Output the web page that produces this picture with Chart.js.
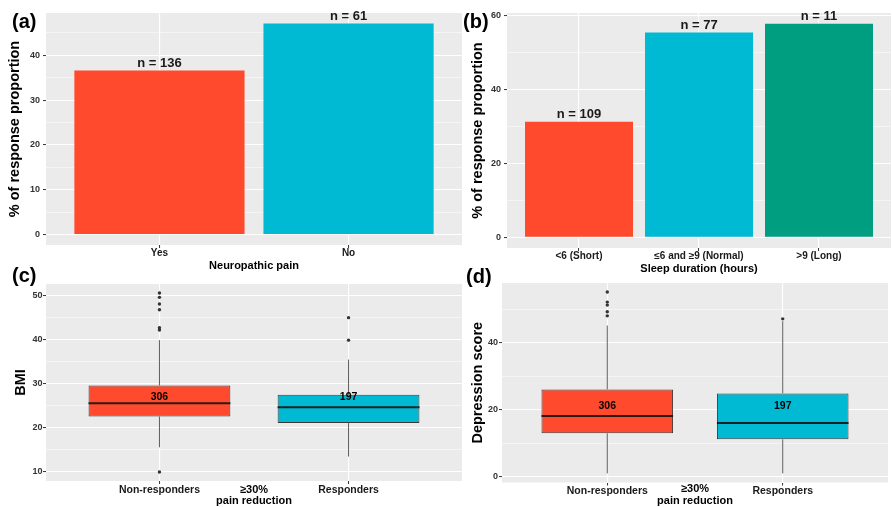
<!DOCTYPE html>
<html>
<head>
<meta charset="utf-8">
<script src="https://cdn.jsdelivr.net/npm/chart.js@4"></script>
<style>
  html, body { margin: 0; padding: 0; background: #ffffff; }
  body { width: 892px; height: 507px; position: relative; overflow: hidden; font-family: "Liberation Sans", Arial, Helvetica, sans-serif; }
  canvas { position: absolute; }
  .tag { position: absolute; font-weight: bold; font-size: 20px; line-height: 20px; color: #000; }
</style>
</head>
<body>
<canvas id="chartA" width="466" height="275" style="left:0px;top:0px"></canvas>
<canvas id="chartB" width="426" height="278" style="left:466px;top:0px"></canvas>
<canvas id="chartC" width="466" height="242" style="left:0px;top:265px"></canvas>
<canvas id="chartD" width="426" height="242" style="left:466px;top:265px"></canvas>
<div class="tag" style="left:12px;top:11px">(a)</div>
<div class="tag" style="left:463px;top:11px">(b)</div>
<div class="tag" style="left:12px;top:265px">(c)</div>
<div class="tag" style="left:466px;top:266px">(d)</div>
<script>
// ---------------- data ----------------
const painCategories = ['Yes', 'No'];
const painPercent = [36.6, 47.1];
const painCounts = ['n = 136', 'n = 61'];

const sleepCategories = ['<6 (Short)', '≤6 and ≥9 (Normal)', '>9 (Long)'];
const sleepPercent = [31.2, 55.3, 57.7];
const sleepCounts = ['n = 109', 'n = 77', 'n = 11'];

const responseGroups = ['Non-responders', 'Responders'];
const groupCounts = ['306', '197'];

const bmiLow    = [15.5, 13.4];
const bmiQ1     = [22.5, 21.0];
const bmiMedian = [25.5, 24.6];
const bmiQ3     = [29.5, 27.4];
const bmiHigh   = [39.8, 35.4];
const bmiOutliers = [[50.5, 49.5, 48.0, 46.7, 42.6, 42.1, 9.9], [44.9, 39.8]];

const depLow    = [1.0, 1.0];
const depQ1     = [13.0, 11.2];
const depMedian = [18.2, 16.1];
const depQ3     = [26.1, 24.9];
const depHigh   = [45.2, 46.5];
const depOutliers = [[55.2, 52.2, 51.3, 49.3, 48.1], [47.2]];

const painTicks  = [0, 10, 20, 30, 40];
const painMinor  = [5, 15, 25, 35, 45];
const sleepTicks = [0, 20, 40, 60];
const sleepMinor = [10, 30, 50];
const bmiTicks   = [10, 20, 30, 40, 50];
const bmiMinor   = [15, 25, 35, 45];
const depTicks   = [0, 20, 40];
const depMinor   = [10, 30, 50];

// ---------------- helpers ----------------
const FONT = '"Liberation Sans", Arial, Helvetica, sans-serif';
const RED = '#FF4A2D', CYAN = '#00BAD3', GREEN = '#009E80';

function expandRange(lo, hi) { const d = (hi - lo) * 0.05; return [lo - d, hi + d]; }

const panelBg = {
  id: 'panelBg',
  beforeDraw(chart) {
    const { ctx, chartArea: a } = chart;
    ctx.save();
    ctx.fillStyle = '#EBEBEB';
    ctx.fillRect(a.left, a.top, a.right - a.left, a.bottom - a.top);
    ctx.restore();
  }
};

function barLabels(labels) {
  return {
    id: 'barLabels',
    afterDatasetsDraw(chart) {
      const ctx = chart.ctx, meta = chart.getDatasetMeta(0);
      ctx.save();
      ctx.font = 'bold 13px ' + FONT;
      ctx.fillStyle = '#1a1a1a';
      ctx.textAlign = 'center';
      ctx.textBaseline = 'bottom';
      meta.data.forEach((el, i) => ctx.fillText(labels[i], el.x, el.y - 1));
      ctx.restore();
    }
  };
}

function boxExtras(low, q1, median, q3, high, counts, countAt) {
  return {
    id: 'boxExtras',
    afterDatasetsDraw(chart) {
      const ctx = chart.ctx, y = chart.scales.y, meta = chart.getDatasetMeta(0);
      ctx.save();
      meta.data.forEach((el, i) => {
        const x = el.x, half = el.width / 2;
        ctx.strokeStyle = '#5e5e5e';
        ctx.lineWidth = 1;
        ctx.beginPath();
        ctx.moveTo(x, y.getPixelForValue(q3[i]));
        ctx.lineTo(x, y.getPixelForValue(high[i]));
        ctx.moveTo(x, y.getPixelForValue(q1[i]));
        ctx.lineTo(x, y.getPixelForValue(low[i]));
        ctx.stroke();
        ctx.strokeStyle = 'rgba(25,20,20,0.92)';
        ctx.lineWidth = 2;
        ctx.beginPath();
        const my = y.getPixelForValue(median[i]);
        ctx.moveTo(x - half, my);
        ctx.lineTo(x + half, my);
        ctx.stroke();
        ctx.font = 'bold 10.5px ' + FONT;
        ctx.fillStyle = '#000';
        ctx.textAlign = 'center';
        ctx.textBaseline = 'middle';
        ctx.fillText(counts[i], x, y.getPixelForValue(countAt));
      });
      ctx.restore();
    }
  };
}

function yScale(range, majors, minors, width, title, titlePad, labelPad) {
  const all = majors.concat(minors).sort((a, b) => a - b);
  return {
    type: 'linear', min: range[0], max: range[1],
    afterBuildTicks: s => { s.ticks = all.map(v => ({ value: v })); },
    afterFit: s => { s.width = width; },
    border: { display: false },
    grid: {
      color: '#ffffff',
      lineWidth: c => (c.tick && majors.includes(c.tick.value)) ? 1.1 : 0.5,
      tickColor: c => (c.tick && majors.includes(c.tick.value)) ? '#333333' : 'rgba(0,0,0,0)',
      tickWidth: 1, tickLength: 3, drawTicks: true
    },
    ticks: {
      autoSkip: false, padding: labelPad, color: '#333333',
      font: { family: FONT, size: 9, weight: 'bold', lineHeight: 1 },
      callback: v => majors.includes(v) ? String(v) : ''
    },
    title: {
      display: true, text: title, color: '#000',
      font: { family: FONT, size: 14.5, weight: 'bold', lineHeight: 1.2 },
      padding: { top: titlePad, bottom: 0 }
    }
  };
}

function xScale(cats, height, title, titleLH, titlePadBottom, tickSize, tickPad) {
  return {
    type: 'linear', min: -0.6, max: cats.length - 1 + 0.6, offset: false,
    afterBuildTicks: s => { s.ticks = cats.map((_, i) => ({ value: i })); },
    afterFit: s => { s.height = height; },
    border: { display: false },
    grid: { offset: false, color: '#ffffff', lineWidth: 1.1, tickColor: '#333333', tickLength: 3, tickWidth: 1 },
    ticks: {
      autoSkip: false, maxRotation: 0, minRotation: 0, padding: tickPad, color: '#1a1a1a',
      font: { family: FONT, size: tickSize, weight: 'bold', lineHeight: 1 },
      callback: v => cats[v]
    },
    title: {
      display: true, text: title, color: '#000',
      font: { family: FONT, size: 11, weight: 'bold', lineHeight: titleLH },
      padding: { top: 0, bottom: titlePadBottom }
    }
  };
}

const baseOptions = (padding, scales) => ({
  responsive: false, animation: false,
  layout: { padding },
  plugins: { legend: { display: false }, tooltip: { enabled: false } },
  scales
});

// ---------------- (a) ----------------
new Chart(document.getElementById('chartA'), {
  type: 'bar',
  data: { datasets: [{
    data: painPercent.map((v, i) => ({ x: i, y: v })),
    backgroundColor: [RED, CYAN], borderWidth: 0,
    categoryPercentage: 0.9, barPercentage: 1
  }] },
  options: baseOptions({ left: 0, top: 13, right: 4, bottom: 0 }, {
    x: xScale(painCategories, 30, 'Neuropathic pain', 1.2, 2.7, 10, 0),
    y: yScale(expandRange(0, Math.max(...painPercent)), painTicks, painMinor, 46, '% of response proportion', 6.3, 3)
  }),
  plugins: [panelBg, barLabels(painCounts)]
});

// ---------------- (b) ----------------
new Chart(document.getElementById('chartB'), {
  type: 'bar',
  data: { datasets: [{
    data: sleepPercent.map((v, i) => ({ x: i, y: v })),
    backgroundColor: [RED, CYAN, GREEN], borderWidth: 0,
    categoryPercentage: 0.9, barPercentage: 1
  }] },
  options: baseOptions({ left: 0, top: 13, right: 1, bottom: 0 }, {
    x: xScale(sleepCategories, 30, 'Sleep duration (hours)', 1.2, 2.4, 10, 0),
    y: yScale(expandRange(0, Math.max(...sleepPercent)), sleepTicks, sleepMinor, 41, '% of response proportion', 2.8, 3)
  }),
  plugins: [panelBg, barLabels(sleepCounts)]
});

// ---------------- box plots ----------------
function boxChart(id, low, q1, median, q3, high, outliers, range, majors, minors, yWidth, yTitle, yTitlePad, yLabelPad, padding, xHeight, xTitlePad, xTickPad, countAt) {
  return new Chart(document.getElementById(id), {
    type: 'bar',
    data: { datasets: [
      {
        type: 'bar',
        data: q1.map((v, i) => ({ x: i, y: [v, q3[i]] })),
        backgroundColor: [RED, CYAN],
        borderColor: 'rgba(30,22,22,0.85)', borderWidth: 1, borderSkipped: false,
        categoryPercentage: 0.75, barPercentage: 1
      },
      {
        type: 'scatter',
        data: outliers.flatMap((arr, i) => arr.map(v => ({ x: i, y: v }))),
        pointRadius: 1.7, pointBackgroundColor: '#333333', pointBorderWidth: 0
      }
    ] },
    options: baseOptions(padding, {
      x: xScale(responseGroups, xHeight, ['≥30%', 'pain reduction'], 1.05, xTitlePad, 10.5, xTickPad),
      y: yScale(range, majors, minors, yWidth, yTitle, yTitlePad, yLabelPad)
    }),
    plugins: [panelBg, boxExtras(low, q1, median, q3, high, groupCounts, countAt)]
  });
}

const bmiRange = expandRange(Math.min(...bmiLow, ...bmiOutliers.flat()), Math.max(...bmiHigh, ...bmiOutliers.flat()));
boxChart('chartC', bmiLow, bmiQ1, bmiMedian, bmiQ3, bmiHigh, bmiOutliers, bmiRange, bmiTicks, bmiMinor, 46, 'BMI', 12.3, 0.5,
  { left: 0, top: 19, right: 4, bottom: 0 }, 26, 0.2, 0.5, 26.8);

const depRange = expandRange(Math.min(...depLow, ...depOutliers.flat()), Math.max(...depHigh, ...depOutliers.flat()));
boxChart('chartD', depLow, depQ1, depMedian, depQ3, depHigh, depOutliers, depRange, depTicks, depMinor, 36, 'Depression score', 2.8, 1,
  { left: 0, top: 18, right: 1, bottom: 0 }, 24.5, 0.7, 0, 21.2);
</script>
</body>
</html>
